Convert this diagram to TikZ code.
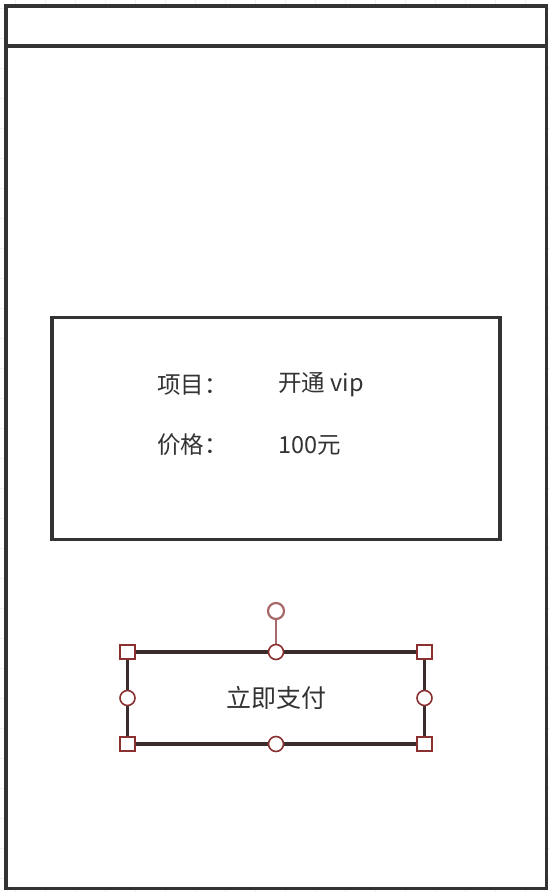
\documentclass[tikz,border=0pt]{standalone}
\usepackage{fontspec}
\setmainfont{Noto Sans CJK SC}
\usepackage{tikz}
\usetikzlibrary{positioning}

\definecolor{ink}{HTML}{333333}
\definecolor{selred}{HTML}{8B3030}
\definecolor{seldark}{HTML}{3A2C2C}
\definecolor{rotred}{HTML}{A86868}
\definecolor{gridgray}{HTML}{F0F0F0}

\tikzset{
	frameline/.style={draw=ink, line width=3.6pt},
	boxline/.style={frameline, line width=3.2pt, inner sep=0pt, outer sep=0pt},
	txt/.style={text=ink, font=\fontsize{23.5}{26}\selectfont, inner sep=0pt, anchor=west},
	sqhandle/.style={draw=selred, fill=white, line width=1.6pt, minimum size=14.5pt, inner sep=0pt},
	cihandle/.style={circle, draw=selred, fill=white, line width=1.6pt, minimum size=15pt, inner sep=0pt},
}

\begin{document}
\begin{tikzpicture}[x=1pt, y=-1pt]
\useasboundingbox (0,0) rectangle (550,892);
% canvas grid
\foreach \gx in {15,45,...,545} \draw[gridgray, line width=0.8pt] (\gx,0) -- (\gx,892);
\foreach \gy in {8,38,...,890} \draw[gridgray, line width=0.8pt] (0,\gy) -- (550,\gy);
% phone frame
\draw[frameline, fill=white] (5.7,5.7) rectangle (546.5,888.5);
\draw[frameline] (5.7,46) -- (546.5,46);

% order box
\node[boxline, minimum width=448pt, minimum height=222pt] (order) at (276,428.5) {};
\node[txt] (k1) at (157,385) {项目：};
\node[txt] (v1) at (278,385) {开通 vip};
\node[txt] (k2) at (157,445) {价格：};
\node[txt] (v2) at (278,445) {100元};

% pay button, selected
\node[boxline, draw=seldark, minimum width=297pt, minimum height=92pt,
	text=ink, font=\fontsize{25}{27}\selectfont] (pay) at (276,698) {立即支付};
\node[circle, draw=rotred, fill=white, line width=2.2pt, minimum size=16pt, inner sep=0pt] (rot) at (276,611) {};
\draw[rotred, line width=2pt] (rot) -- (pay.north);
\foreach \a in {north west,north east,south west,south east}
	\node[sqhandle] (h-\a) at (pay.\a) {};
\foreach \a in {north,south,west,east}
	\node[cihandle] (c-\a) at (pay.\a) {};
\end{tikzpicture}
\end{document}
